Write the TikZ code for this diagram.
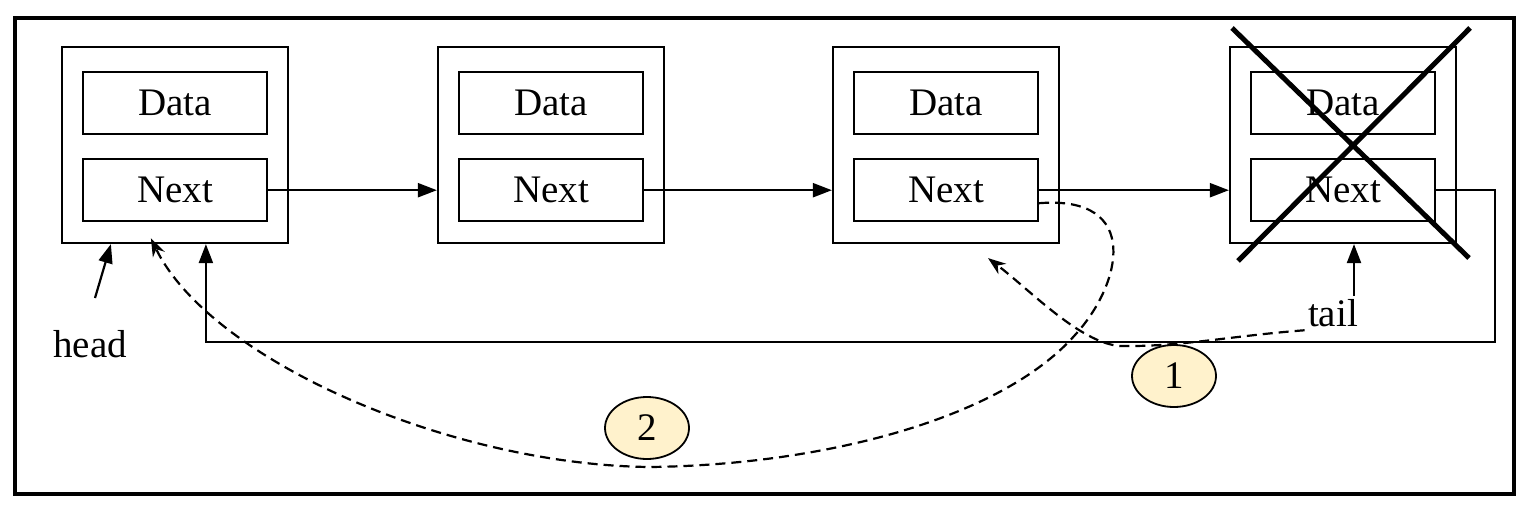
\documentclass[tikz,border=0pt]{standalone}
\usepackage{fontspec}
\setmainfont{Liberation Serif}
\usetikzlibrary{arrows.meta,positioning,shapes.geometric}
\definecolor{notefill}{RGB}{255,242,204}
\tikzset{
  cell/.style={draw, line width=2.2pt, minimum width=226pt, minimum height=196pt, inner sep=0pt},
  field/.style={draw, line width=2.2pt, minimum width=184pt, minimum height=62pt, inner sep=0pt},
  link/.style={line width=2.2pt, -{Triangle[length=19pt,width=14pt]}},
  back/.style={line width=2.2pt, dash pattern=on 10pt off 6pt, -{Stealth[length=18pt,width=13pt]}},
  badge/.style={draw, ellipse, fill=notefill, line width=1.8pt, minimum width=84pt, minimum height=62pt, inner sep=0pt}
}
\begin{document}
\begin{tikzpicture}[x=1pt,y=-1pt,font=\fontsize{39}{40}\selectfont]
\useasboundingbox (0,0) rectangle (1531,506);
\draw[line width=3.5pt] (15,18) rectangle (1514,494);
% list cells
\foreach \i/\x in {1/175,2/551,3/946,4/1343}{
  \node[cell] (n\i) at (\x,145) {};
  \node[field, below=25pt of n\i.north] (d\i) {Data};
  \node[field, below=23pt of d\i] (x\i) {Next};
}
\foreach \i/\j in {1/2,2/3,3/4}
  \draw[link] (x\i.east) -- (x\i.east -| n\j.west);
% removed cell
\draw[line width=5pt] (1232,28) -- (1469,258) (1470,28) -- (1238,261);
% head and tail
\node (head) at (90,344) {head};
\coordinate (hfoot) at (95,298);
\draw[link] (hfoot) -- ([xshift=50pt]n1.south west);
\node (tail) at (1333,313) {tail};
\coordinate (tailx) at (1354,0);
\draw[link] (tail.north -| tailx) -- (n4.south -| tailx);
\coordinate (turn) at (1495,342);
\draw[link] (x4.east) -| (turn) -| ([xshift=145pt]n1.south west);
% new links
\draw[back] (tail.south west) .. controls (1230,336) and (1180,347) .. (1120,346)
  .. controls (1080,343) and (1030,290) .. ([shift={(42,14)}]n3.south);
\draw[back] ([yshift=-13pt]x3.east) .. controls (1142,195) and (1122,284) .. (1075,335)
  .. controls (1000,420) and (820,465) .. (650,467)
  .. controls (450,465) and (210,360) .. ([shift={(69,16)}]x1.south west);
\node[badge] (b1) at (1174,376) {1};
\node[badge] (b2) at (647,428) {2};
\end{tikzpicture}
\end{document}
